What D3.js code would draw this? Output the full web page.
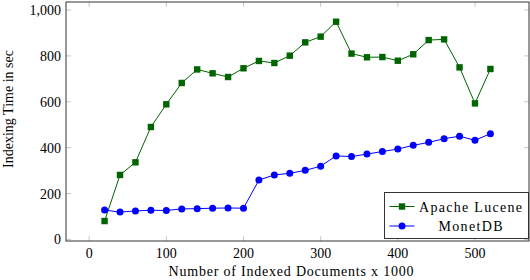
<!DOCTYPE html>
<html><head>
<meta charset="utf-8">
<script src="https://d3js.org/d3.v7.min.js"></script>
<style>
  body { margin: 0; background: #fff; }
</style>
</head>
<body>
<svg id="chart" width="530" height="280" font-family="Liberation Serif, Times New Roman, serif"></svg>
<script>
// data (x in thousands of docs, y in sec)
const docs = [20, 40, 60, 80, 100, 120, 140, 160, 180, 200, 220, 240, 260,
              280, 300, 320, 340, 360, 380, 400, 420, 440, 460, 480, 500, 520];
const lucene = [80, 281, 336, 490, 589, 682, 741, 724, 708, 746, 778, 769, 801,
                859, 884, 949, 810, 794, 795, 779, 807, 869, 872, 750, 593, 743];
const monetdb = [128, 119, 124, 127, 126, 133, 134, 136, 137, 136, 259, 281, 288,
                 301, 319, 364, 361, 372, 383, 394, 410, 423, 439, 450, 432, 461];
const xTicks = [0, 100, 200, 300, 400, 500];
const yTicks = [0, 200, 400, 600, 800, 1000];
const seriesNames = ["Apache Lucene", "MonetDB"];

const svg = d3.select("#chart");
const pLeft = 66, pRight = 529, pTop = 2, pBottom = 241;

const x = d3.scaleLinear().domain([-30, 570]).range([pLeft, pRight]);
const y = d3.scaleLinear().domain([-7, 1035]).range([pBottom, pTop]);

// tick marks inside the box (mirrored)
const tickCol = "#c8c8c8";
svg.selectAll("line.xt").data(xTicks).join("line")
   .attr("x1", d => x(d)).attr("x2", d => x(d))
   .attr("y1", pBottom).attr("y2", pBottom - 5)
   .attr("stroke", tickCol);
svg.selectAll("line.xt2").data(xTicks).join("line")
   .attr("x1", d => x(d)).attr("x2", d => x(d))
   .attr("y1", pTop).attr("y2", pTop + 5)
   .attr("stroke", tickCol);
svg.selectAll("line.yt").data(yTicks).join("line")
   .attr("x1", pLeft).attr("x2", pLeft + 5)
   .attr("y1", d => y(d)).attr("y2", d => y(d))
   .attr("stroke", tickCol);
svg.selectAll("line.yt2").data(yTicks).join("line")
   .attr("x1", pRight).attr("x2", pRight - 5)
   .attr("y1", d => y(d)).attr("y2", d => y(d))
   .attr("stroke", tickCol);

// axis box
svg.append("rect")
   .attr("x", pLeft).attr("y", pTop)
   .attr("width", pRight - pLeft).attr("height", pBottom - pTop)
   .attr("fill", "none").attr("stroke", "#333").attr("stroke-width", 1);

// tick labels
svg.selectAll("text.xl").data(xTicks).join("text")
   .attr("x", d => x(d)).attr("y", 258)
   .attr("text-anchor", "middle").attr("font-size", 14)
   .text(d => d3.format(",")(d));
svg.selectAll("text.yl").data(yTicks).join("text")
   .attr("x", 61).attr("y", d => y(d) + 5)
   .attr("text-anchor", "end").attr("font-size", 14)
   .text(d => d3.format(",")(d));

// axis titles
svg.append("text")
   .attr("x", 291).attr("y", 276)
   .attr("text-anchor", "middle").attr("font-size", 14)
   .attr("textLength", 245)
   .text("Number of Indexed Documents x 1000");
svg.append("text")
   .attr("transform", "translate(13,109) rotate(-90)")
   .attr("text-anchor", "middle").attr("font-size", 14)
   .attr("textLength", 118)
   .text("Indexing Time in sec");

const green = "#006400", blue = "#0000ff";
const line = d3.line().x((d, i) => x(docs[i])).y(d => y(d));

// Lucene
svg.append("path").datum(lucene)
   .attr("d", line).attr("fill", "none")
   .attr("stroke", green).attr("stroke-width", 1);
svg.selectAll("rect.luc").data(lucene).join("rect")
   .attr("x", (d, i) => x(docs[i]) - 3.2).attr("y", d => y(d) - 3.2)
   .attr("width", 6.4).attr("height", 6.4)
   .attr("fill", green);

// MonetDB
svg.append("path").datum(monetdb)
   .attr("d", line).attr("fill", "none")
   .attr("stroke", blue).attr("stroke-width", 1);
svg.selectAll("circle.mon").data(monetdb).join("circle")
   .attr("cx", (d, i) => x(docs[i])).attr("cy", d => y(d))
   .attr("r", 3.5).attr("fill", blue);

// legend
const lg = svg.append("g").attr("transform", "translate(384.5,192.5)");
lg.append("rect").attr("width", 144).attr("height", 46)
  .attr("fill", "#fff").attr("stroke", "#333");
seriesNames.forEach((name, i) => {
  const cy = 14 + i * 19.5;
  const col = i === 0 ? green : blue;
  lg.append("line").attr("x1", 5).attr("x2", 30)
    .attr("y1", cy).attr("y2", cy).attr("stroke", col);
  if (i === 0) {
    lg.append("rect").attr("x", 14.3).attr("y", cy - 3.2)
      .attr("width", 6.4).attr("height", 6.4).attr("fill", col);
  } else {
    lg.append("circle").attr("cx", 17.5).attr("cy", cy)
      .attr("r", 3.5).attr("fill", col);
  }
  lg.append("text").attr("x", 86).attr("y", cy + 5)
    .attr("text-anchor", "middle").attr("font-size", 14)
    .attr("textLength", i === 0 ? 103 : 64)
    .text(name);
});
</script>
</body>
</html>
